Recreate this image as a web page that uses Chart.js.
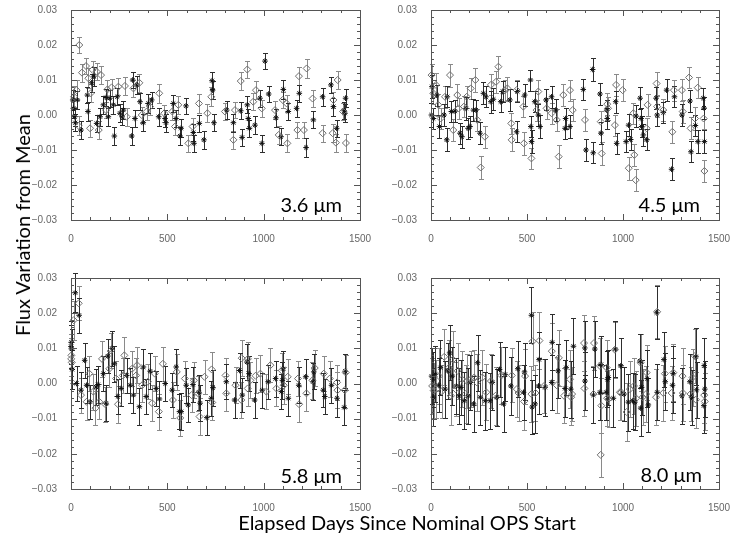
<!DOCTYPE html>
<html>
<head>
<meta charset="utf-8">
<script src="https://cdn.jsdelivr.net/npm/chart.js@4.4.0/dist/chart.umd.min.js"></script>
<style>
  body { margin: 0; background: #fff; }
  #wrap { position: relative; width: 730px; height: 537px; overflow: hidden; font-family: Lato, "Open Sans", sans-serif; }
  canvas { position: absolute; left: 0; top: 0; }
  .lbl { position: absolute; font-size: 20px; line-height: 24px; color: #000; white-space: nowrap; }
</style>
</head>
<body>
<div id="wrap">
  <canvas id="c36" width="730" height="537"></canvas>
  <canvas id="c45" width="730" height="537"></canvas>
  <canvas id="c58" width="730" height="537"></canvas>
  <canvas id="c80" width="730" height="537"></canvas>
  <div class="lbl" style="right:388px; top:192px">3.6 μm</div>
  <div class="lbl" style="right:30px; top:192px">4.5 μm</div>
  <div class="lbl" style="right:388px; top:463px">5.8 μm</div>
  <div class="lbl" style="right:28px; top:462px">8.0 μm</div>
  <div class="lbl" style="left:407px; top:510px; transform:translateX(-50%)">Elapsed Days Since Nominal OPS Start</div>
  <div class="lbl" style="left:22px; top:225px; transform:translate(-50%,-50%) rotate(-90deg)">Flux Variation from Mean</div>
</div>
<script>
// axis ranges and tick steps
const xTicks = [0, 1500, 500, 100];          // min, max, major, minor
const yTicks = [-0.03, 0.03, 0.01, 0.002];

// ---- 3.6 um ----  (sigma in units of 1e-4)
const days36D = [16,29,40,43,57,78,90,99,102,112, 133,144,156,182,189,211,246,280,289,324,
  355,367,393,410,458,484,526,540,557,609, 631,664,708,728,799,843,851,881,915,946,
  960,990,1059,1078,1099,1119,1123,1175,1183,1209, 1223,1254,1306,1358,1362,1375,1384,1412,1427];
const flux36D = [0.0052,0.0071,-0.0031,0.0200,0.0121,0.0140,0.0105,-0.0038,0.0062,0.0129,
  0.0124,-0.0043,0.0114,0.0014,0.0073,0.0079,0.0081,0.0083,-0.0005,0.0076,
  0.0092,0.0000,0.0010,0.0024,0.0062,0.0005,0.0010,-0.0033,0.0029,-0.0081,
  -0.0033,0.0033,0.0005,0.0052,0.0010,-0.0071,0.0014,0.0097,0.0130,0.0038,
  0.0071,0.0019,0.0014,-0.0057,0.0043,0.0033,-0.0081,-0.0043,0.0111,-0.0043,
  0.0133,0.0047,-0.0052,-0.0052,0.0043,-0.0079,0.0100,0.0010,-0.0080];
const sig36D = [30,28,27,24,26,24,28,25,26,24, 25,26,25,24,26,25,24,26,25,24,
  26,24,25,24,27,24,25,24,26,25, 24,26,25,27,24,25,24,26,25,24,
  25,24,26,25,24,25,26,24,25,24, 26,25,24,25,24,26,25,24,25];
const days36A = [9,12,19,22,33,52,85,88,107,119, 133,151,168,182,194,202,220,225,240,254,
  265,272,315,320,332,341,358,375,401,419, 455,488,493,531,545,566,571,597,635,638,
  666,690,732,735,742,808,843,881,888,915, 920,926,955,981,991,1007,1026,1064,1090,1102,
  1128,1171,1185,1220,1258,1306,1349,1362,1379,1418, 1422,1425];
const flux36A = [0.0043,0.0019,-0.0005,-0.0022,0.0043,-0.0043,0.0057,0.0010,0.0092,0.0111,
  -0.0024,-0.0005,0.0029,0.0050,-0.0005,0.0048,0.0029,-0.0060,0.0052,0.0005,
  -0.0005,0.0014,-0.0060,0.0100,-0.0010,0.0086,0.0038,-0.0022,0.0033,0.0043,
  -0.0005,-0.0010,-0.0022,0.0033,-0.0010,-0.0060,-0.0038,0.0026,-0.0050,-0.0081,
  -0.0024,-0.0071,0.0098,0.0071,-0.0022,0.0014,-0.0022,0.0012,-0.0064,0.0029,
  -0.0010,-0.0038,-0.0029,0.0048,-0.0081,0.0154,0.0060,-0.0008,-0.0062,0.0073,
  0.0010,0.0019,0.0062,-0.0093,-0.0014,0.0052,0.0086,0.0024,-0.0038,0.0012,
  0.0005,0.0048];
const sig36A = [28,27,26,25,26,25,24,26,25,27, 24,25,26,24,25,24,25,26,24,25,
  24,26,25,24,25,26,24,25,26,24, 25,24,26,25,24,25,26,24,25,24,
  25,26,24,25,24,25,26,24,25,24, 26,24,25,24,25,22,24,25,24,26,
  25,24,25,26,24,25,24,26,25,24, 25,26];

// ---- 4.5 um ----
const days45D = [3,12,26,38,50,73,99,116,137,144, 172,186,207,231,241,259,281,312,339,351,
  385,398,418,420,446,481,484,523,550,559, 602,628,655,665,689,724,738,802,884,889,
  918,922,958,964,998,1030,1054,1059,1066,1123, 1128,1175,1178,1210,1257,1265,1307,1311,1344,1352,
  1375,1389,1420,1424];
const flux45D = [0.0114,0.0062,0.0086,0.0029,-0.0010,0.0052,0.0114,-0.0043,0.0057,0.0019,
  0.0024,0.0052,0.0076,0.0100,-0.0014,-0.0150,-0.0062,0.0086,0.0095,0.0138,
  0.0071,0.0076,-0.0024,-0.0071,0.0071,0.0024,-0.0081,-0.0124,0.0014,0.0067,
  0.0019,0.0005,-0.0014,-0.0119,0.0057,0.0071,0.0014,-0.0014,-0.0019,-0.0110,
  0.0031,0.0019,-0.0029,0.0086,0.0071,-0.0152,0.0005,-0.0114,-0.0186,-0.0038,
  0.0029,0.0090,0.0024,0.0014,-0.0048,0.0071,0.0071,0.0010,0.0107,-0.0038,
  -0.0010,0.0078,-0.0010,-0.0160];
const sig45D = [32,30,34,31,30,32,33,31,32,30, 31,32,30,33,31,32,31,30,32,31,
  30,32,31,33,30,31,32,31,30,32, 31,30,32,33,31,30,32,31,30,32,
  31,32,30,31,32,33,30,31,32,30, 31,32,30,31,32,30,31,32,30,31,
  32,30,31,32];
const days45A = [2,5,12,30,44,68,82,85,106,125, 151,161,182,193,203,221,234,255,273,286,
  312,325,363,373,411,446,450,488,518,520, 524,540,559,568,599,628,649,698,701,724,
  793,807,842,845,880,885,915,918,962,967, 1016,1029,1040,1068,1089,1094,1097,1106,1123,1172,
  1178,1210,1227,1253,1268,1307,1349,1354,1377,1390, 1418,1422,1424];
const flux45A = [0.0000,0.0081,-0.0010,0.0057,-0.0033,0.0000,-0.0071,0.0052,0.0010,0.0011,
  -0.0052,-0.0062,0.0019,-0.0038,-0.0033,0.0014,0.0014,-0.0052,0.0062,0.0052,
  0.0038,0.0045,0.0038,0.0067,0.0043,-0.0048,0.0067,0.0057,0.0100,-0.0033,
  -0.0076,0.0038,0.0000,-0.0033,0.0043,0.0052,0.0014,-0.0038,-0.0010,-0.0033,
  0.0073,-0.0100,0.0130,-0.0108,0.0060,-0.0052,0.0014,-0.0010,0.0038,-0.0081,
  -0.0076,-0.0029,-0.0070,-0.0003,0.0048,-0.0010,-0.0033,-0.0057,-0.0071,0.0048,
  0.0000,0.0007,0.0071,-0.0155,0.0052,0.0000,0.0040,-0.0105,-0.0030,-0.0076,
  0.0048,0.0020,-0.0076];
const sig45A = [33,32,31,30,32,31,33,30,31,32, 30,31,32,30,31,32,30,31,32,30,
  31,32,30,31,32,30,31,32,30,31, 32,30,31,32,30,31,32,30,31,32,
  30,31,32,30,31,32,30,31,32,30, 31,32,30,31,32,30,31,32,30,31,
  32,30,31,32,30,31,32,30,31,32, 30,31,32];

// ---- 5.8 um ----
const days58D = [1,2,4,14,40,52,81,95,116,127, 147,161,178,199,208,234,244,269,277,317,
  338,343,369,399,421,435,456,477,529,549, 567,591,626,638,660,667,693,730,733,802,
  806,854,884,886,917,918,931,958,983,1014, 1035,1066,1094,1104,1125,1178,1184,1222,1253,1265,
  1312,1343,1381,1383,1421,1426];
const flux58D = [0.0070,0.0080,0.0060,0.0180,0.0228,-0.0033,-0.0052,0.0028,-0.0023,-0.0070,
  -0.0052,0.0070,-0.0059,0.0042,0.0094,0.0014,-0.0059,0.0023,0.0080,0.0042,
  0.0023,0.0052,-0.0005,0.0005,-0.0056,0.0028,-0.0080,0.0056,-0.0047,0.0033,
  -0.0098,0.0014,-0.0033,0.0009,-0.0028,-0.0094,0.0019,0.0040,-0.0054,0.0023,
  -0.0028,-0.0005,-0.0047,0.0072,-0.0014,0.0070,0.0009,0.0022,0.0028,-0.0023,
  0.0052,-0.0014,0.0037,-0.0005,0.0019,0.0014,-0.0059,-0.0028,0.0009,0.0044,
  0.0028,0.0014,0.0003,-0.0019,-0.0019,0.0031];
const sig58D = [60,60,58,55,48,50,52,50,51,49, 50,52,50,51,49,50,52,50,51,49,
  50,51,49,50,52,50,51,49,50,51, 52,50,49,51,50,52,49,50,51,50,
  49,51,50,52,50,49,51,50,52,50, 49,51,50,52,50,49,51,50,52,50,
  49,51,50,52,50,49];
const days58A = [0,1,3,6,22,29,42,52,71,81, 99,130,140,168,182,191,213,225,243,260,
  289,307,324,355,376,390,411,442,459,489, 525,546,563,572,598,608,633,664,670,705,
  728,737,806,849,875,889,913,924,953,993, 1023,1062,1092,1097,1100,1128,1182,1218,1256,1260,
  1309,1317,1352,1381,1418,1423];
const flux58A = [0.0105,0.0117,0.0098,0.0040,0.0258,0.0000,0.0194,-0.0019,0.0066,-0.0005,
  -0.0052,-0.0010,-0.0003,0.0028,-0.0056,0.0078,0.0100,0.0056,-0.0037,-0.0014,
  0.0023,-0.0005,-0.0033,-0.0066,0.0047,-0.0037,0.0035,-0.0014,-0.0044,0.0000,
  -0.0019,0.0047,-0.0080,-0.0080,-0.0005,-0.0061,-0.0003,-0.0025,-0.0056,-0.0097,
  -0.0042,-0.0012,0.0005,-0.0047,0.0037,-0.0033,0.0061,0.0028,-0.0047,-0.0019,
  0.0005,0.0014,-0.0023,0.0009,0.0042,-0.0042,-0.0005,0.0019,0.0005,0.0033,
  -0.0019,-0.0037,-0.0005,-0.0042,-0.0068,0.0035];
const sig58A = [60,62,58,55,55,50,50,52,50,51, 49,50,52,50,51,49,50,52,50,51,
  49,50,51,52,50,49,51,50,52,50, 49,51,50,52,50,49,51,50,52,50,
  49,51,50,52,50,49,51,50,52,50, 49,51,50,52,50,49,51,50,52,50,
  49,51,50,52,50,49];

// ---- 8.0 um ----
const days80D = [6,14,28,42,57,69,94,104,114,128, 139,161,180,187,208,225,239,267,288,312,
  336,367,421,447,456,485,490,523,529,544, 565,589,629,655,666,693,724,730,735,797,
  799,846,849,880,884,887,915,917,925,958, 984,991,1019,1036,1057,1068,1092,1102,1120,1123,
  1172,1178,1210,1218,1253,1262,1310,1312,1352,1362, 1374,1380,1423,1426];
const flux80D = [-0.0007,-0.0020,-0.0016,0.0021,-0.0022,0.0076,0.0045,-0.0035,0.0068,-0.0016,
  0.0036,0.0012,-0.0030,0.0007,0.0012,0.0017,0.0003,0.0017,-0.0025,0.0007,
  -0.0035,0.0023,0.0023,-0.0016,-0.0027,-0.0051,0.0021,-0.0030,0.0120,-0.0027,
  0.0122,-0.0007,0.0092,-0.0005,0.0073,-0.0035,0.0012,-0.0039,-0.0030,0.0115,
  -0.0014,-0.0030,0.0115,0.0050,-0.0203,-0.0063,0.0045,-0.0042,-0.0044,0.0096,
  -0.0025,-0.0025,-0.0081,-0.0016,-0.0007,-0.0042,0.0059,-0.0039,-0.0030,0.0031,
  -0.0039,0.0204,-0.0027,0.0028,-0.0027,0.0031,0.0021,-0.0027,-0.0030,0.0017,
  0.0078,-0.0046,-0.0033,-0.0051];
const sig80D = [80,78,82,80,76,80,78,82,80,77, 80,79,82,78,80,77,81,79,80,78,
  82,80,77,79,81,80,78,80,82,79, 80,78,81,79,80,78,82,80,77,80,
  79,81,78,80,62,79,80,78,81,79, 80,78,82,79,80,78,81,80,79,78,
  80,75,79,80,78,81,80,79,78,80, 77,80,79,81];
const days80A = [3,10,12,23,40,49,73,87,97,111, 132,146,156,173,194,205,222,243,257,283,
  308,319,343,357,378,386,416,452,482,487, 523,527,542,560,563,594,629,631,662,698,
  704,728,742,801,802,846,853,880,886,912, 919,924,950,960,988,1005,1028,1050,1062,1088,
  1092,1097,1126,1132,1175,1178,1213,1220,1258,1262, 1307,1348,1357,1380,1383,1421,1423,1426];
const flux80A = [0.0021,0.0012,-0.0039,0.0026,-0.0005,0.0045,-0.0016,0.0036,0.0087,0.0021,
  -0.0007,-0.0035,-0.0011,-0.0049,-0.0035,0.0003,-0.0058,0.0059,-0.0039,-0.0049,
  -0.0049,0.0003,-0.0039,0.0040,-0.0058,0.0026,-0.0007,0.0042,-0.0025,0.0033,
  0.0194,-0.0067,-0.0058,-0.0007,0.0068,-0.0011,0.0003,0.0117,0.0036,-0.0014,
  0.0045,-0.0016,0.0106,0.0101,0.0007,-0.0033,0.0098,-0.0025,0.0054,-0.0025,
  0.0012,0.0017,-0.0042,0.0098,0.0050,-0.0030,-0.0053,-0.0049,-0.0053,0.0064,
  -0.0070,-0.0011,0.0014,-0.0061,0.0201,-0.0025,0.0068,0.0005,-0.0005,0.0028,
  -0.0035,0.0005,-0.0039,0.0076,-0.0018,-0.0063,0.0051,-0.0016];
const sig80A = [80,78,82,80,77,79,81,80,78,82, 80,79,78,81,80,77,79,80,78,82,
  80,79,81,78,80,77,82,80,79,81, 80,78,82,80,79,81,78,80,77,80,
  79,81,80,78,82,79,80,78,81,79, 80,78,82,79,80,78,81,80,79,78,
  80,79,81,78,75,80,79,81,78,80, 79,80,78,81,80,79,78,80];

const Y_AXIS_W = 40, X_AXIS_H = 25;

// vertical error bars with small caps, drawn under the markers
const errorBars = {
  id: 'errorBars',
  beforeDatasetsDraw(chart) {
    const ctx = chart.ctx, xs = chart.scales.x, ys = chart.scales.y;
    chart.data.datasets.forEach(ds => {
      ctx.save();
      ctx.strokeStyle = ds.barColor;
      ctx.lineWidth = 1;
      ctx.beginPath();
      ds.data.forEach((p, i) => {
        const e = ds.sigma[i] * 1e-4;
        const x = Math.round(xs.getPixelForValue(p.x)) + 0.5;
        const y1 = Math.round(ys.getPixelForValue(p.y + e)) + 0.5;
        const y2 = Math.round(ys.getPixelForValue(p.y - e)) + 0.5;
        ctx.moveTo(x, y1); ctx.lineTo(x, y2);
        ctx.moveTo(x - 2.5, y1); ctx.lineTo(x + 2.5, y1);
        ctx.moveTo(x - 2.5, y2); ctx.lineTo(x + 2.5, y2);
      });
      ctx.stroke();
      ctx.restore();
    });
  }
};

// IDL-style box with inward major/minor ticks on all four sides
const frame = {
  id: 'frame',
  afterDraw(chart) {
    const { ctx, chartArea: a } = chart;
    const xs = chart.scales.x, ys = chart.scales.y;
    ctx.save();
    ctx.strokeStyle = '#555';
    ctx.lineWidth = 1;
    ctx.strokeRect(a.left + 0.5, a.top + 0.5, a.right - a.left, a.bottom - a.top);
    ctx.beginPath();
    const nx = Math.round((xTicks[1] - xTicks[0]) / xTicks[3]);
    for (let k = 0; k <= nx; k++) {
      const v = xTicks[0] + k * xTicks[3];
      const len = (k % Math.round(xTicks[2] / xTicks[3]) === 0) ? 6 : 3;
      const px = Math.round(xs.getPixelForValue(v)) + 0.5;
      ctx.moveTo(px, a.bottom); ctx.lineTo(px, a.bottom - len);
      ctx.moveTo(px, a.top); ctx.lineTo(px, a.top + len);
    }
    const ny = Math.round((yTicks[1] - yTicks[0]) / yTicks[3]);
    const per = Math.round(yTicks[2] / yTicks[3]);
    for (let k = 0; k <= ny; k++) {
      const v = yTicks[0] + k * yTicks[3];
      const len = (k % per === 0) ? 6 : 3;
      const py = Math.round(ys.getPixelForValue(v)) + 0.5;
      ctx.moveTo(a.left, py); ctx.lineTo(a.left + len, py);
      ctx.moveTo(a.right, py); ctx.lineTo(a.right - len, py);
    }
    ctx.stroke();
    ctx.restore();
  }
};

function pts(days, flux) {
  return days.map((d, i) => ({ x: d, y: flux[i] }));
}

function makePanel(id, box, dDays, dFlux, dSig, aDays, aFlux, aSig) {
  const tickFont = { family: '"Liberation Sans", Arial, sans-serif', size: 10 };
  new Chart(document.getElementById(id), {
    type: 'scatter',
    data: {
      datasets: [
        {
          data: pts(dDays, dFlux), sigma: dSig, barColor: '#8a8a8a',
          pointStyle: 'rectRot', pointRadius: 3.5, borderWidth: 1,
          borderColor: '#6e6e6e', backgroundColor: 'rgba(255,255,255,0)'
        },
        {
          data: pts(aDays, aFlux), sigma: aSig, barColor: '#2e2e2e',
          pointStyle: 'star', pointRadius: 2.8, borderWidth: 1,
          borderColor: '#111', backgroundColor: '#111'
        }
      ]
    },
    options: {
      responsive: false,
      animation: false,
      devicePixelRatio: 1,
      events: [],
      clip: false,
      layout: {
        padding: {
          left: box.l - Y_AXIS_W,
          right: 730 - box.r,
          top: box.t,
          bottom: 537 - box.b - X_AXIS_H
        }
      },
      plugins: { legend: { display: false }, tooltip: { enabled: false } },
      scales: {
        x: {
          type: 'linear', min: xTicks[0], max: xTicks[1],
          grid: { display: false }, border: { display: false },
          ticks: {
            stepSize: xTicks[2], color: '#666', font: tickFont, padding: 5, maxRotation: 0,
            callback: v => String(v)
          },
          afterFit(s) { s.height = X_AXIS_H; s.paddingLeft = 0; s.paddingRight = 0; }
        },
        y: {
          min: yTicks[0], max: yTicks[1],
          grid: { display: false }, border: { display: false },
          ticks: {
            stepSize: yTicks[2], color: '#666', font: tickFont, padding: 6,
            callback: v => {
              const s = (Math.abs(v) < 1e-9 ? 0 : v).toFixed(2);
              return s.replace('-', '\u2212');
            }
          },
          afterFit(s) { s.width = Y_AXIS_W; s.paddingTop = 0; s.paddingBottom = 0; }
        }
      }
    },
    plugins: [errorBars, frame]
  });
}

makePanel('c36', { l: 71, r: 360, t: 10, b: 220 }, days36D, flux36D, sig36D, days36A, flux36A, sig36A);
makePanel('c45', { l: 431, r: 719, t: 10, b: 220 }, days45D, flux45D, sig45D, days45A, flux45A, sig45A);
makePanel('c58', { l: 71, r: 360, t: 278, b: 489 }, days58D, flux58D, sig58D, days58A, flux58A, sig58A);
makePanel('c80', { l: 431, r: 719, t: 278, b: 489 }, days80D, flux80D, sig80D, days80A, flux80A, sig80A);
</script>
</body>
</html>
